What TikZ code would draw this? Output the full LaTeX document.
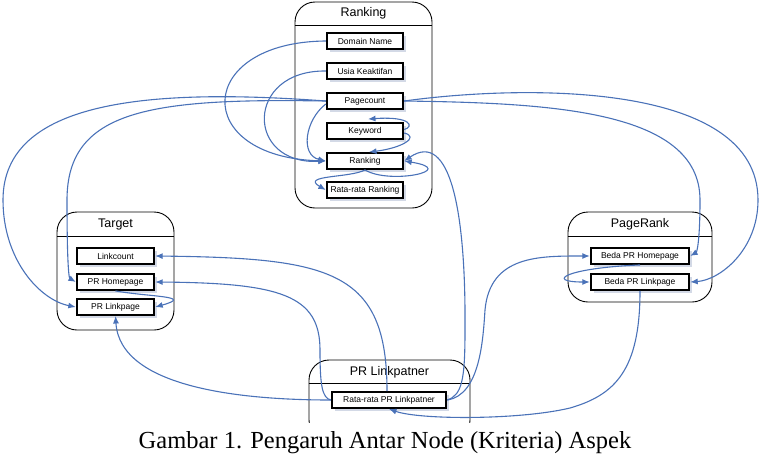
\documentclass[tikz,border=0pt]{standalone}
\usepackage{fontspec}
\setmainfont{Liberation Sans}
\newfontfamily\capfont{Liberation Serif}
\usetikzlibrary{arrows.meta,shadows}
\definecolor{edgeblue}{HTML}{4A72B8}
\definecolor{shadowc}{HTML}{D3D9E6}
\begin{document}
\begin{tikzpicture}[x=1pt,y=-1pt,
  grp/.style={draw=black, line width=0.9pt, rounded corners=20pt, inner sep=0pt},
  gtitle/.style={font=\fontsize{12.5}{14}\selectfont, inner sep=0pt},
  sep/.style={draw=black, line width=0.9pt},
  vbox/.style={draw=black, line width=2.4pt, fill=white, minimum height=15.5pt, inner sep=0pt,
    font=\fontsize{8.5}{10}\selectfont,
    drop shadow={shadow xshift=3pt, shadow yshift=-3pt, fill=shadowc, opacity=1}},
  ed/.style={draw=edgeblue, line width=1.1pt, -{Latex[length=7.5pt,width=6pt]}}]
\useasboundingbox (0,0) rectangle (760,459);

% groups
\node[grp, minimum width=137pt, minimum height=206pt] (gRank) at (363.5,105) {};
\node[gtitle] (tRank) at (363.5,13) {Ranking};
\draw[sep] (gRank.west |- 0,25) -- (gRank.east |- 0,25);

\node[grp, minimum width=117pt, minimum height=118pt] (gTarget) at (115.5,271) {};
\node[gtitle] (tTarget) at (115.5,224) {Target};
\draw[sep] (gTarget.west |- 0,236) -- (gTarget.east |- 0,236);

\node[grp, minimum width=144pt, minimum height=90pt] (gPR) at (640,257) {};
\node[gtitle] (tPR) at (640,224) {PageRank};
\draw[sep] (gPR.west |- 0,236) -- (gPR.east |- 0,236);

\begin{scope}
\clip (0,0) rectangle (760,422);
\node[grp, minimum width=161pt, minimum height=80pt] (gPL) at (389.5,400) {};
\end{scope}
\node[gtitle] (tPL) at (389.5,372) {PR Linkpatner};
\draw[sep] (gPL.west |- 0,383) -- (gPL.east |- 0,383);

% variable boxes
\node[vbox, minimum width=76pt] (dn) at (365,41) {Domain Name};
\node[vbox, minimum width=76pt] (uk) at (365,71) {Usia Keaktifan};
\node[vbox, minimum width=76pt] (pc) at (365,101) {Pagecount};
\node[vbox, minimum width=76pt] (kw) at (365,131) {Keyword};
\node[vbox, minimum width=76pt] (rk) at (365,161) {Ranking};
\node[vbox, minimum width=76pt] (rr) at (365,190) {Rata-rata Ranking};

\node[vbox, minimum width=77pt] (lc) at (115.5,256) {Linkcount};
\node[vbox, minimum width=77pt] (ph) at (115.5,282) {PR Homepage};
\node[vbox, minimum width=77pt] (pl) at (115.5,307) {PR Linkpage};

\node[vbox, minimum width=98pt] (bh) at (640,256) {Beda PR Homepage};
\node[vbox, minimum width=98pt] (bl) at (640,282) {Beda PR Linkpage};

\node[vbox, minimum width=114pt] (plk) at (389,400) {Rata-rata PR Linkpatner};

% connectors
\draw[ed] (dn.west) .. controls (195,42) and (190,157) .. (rk.west);
\draw[ed] (uk.west) .. controls (245,70) and (245,165) .. (rk.west);
\draw[ed] ([yshift=-3pt]pc.west) .. controls (305,120) and (300,155) .. (rk.west);

\draw[ed] (pc.west) .. controls (150,98) and (67,110) .. (67,200) .. controls (67,265) and (69,278) .. (ph.west);
\draw[ed] (pc.west) .. controls (150,88) and (3,100) .. (3,200) .. controls (3,260) and (40,300) .. (pl.west);
\draw[ed] (pc.east) .. controls (550,103) and (700,110) .. (700,200) .. controls (700,240) and (697,252) .. (bh.east);
\draw[ed] (pc.east) .. controls (520,85) and (758,80) .. (758,200) .. controls (758,250) and (720,280) .. (bl.east);

\draw[ed] ([yshift=1.5pt]kw.east) .. controls (414,127) and (412,116) .. ([xshift=3pt,yshift=3pt]kw.north);
\draw[ed] ([yshift=-2pt]kw.east) .. controls (420,137) and (402,148) .. ([xshift=4pt]rk.north);
\draw[ed] (rk.south) .. controls (390,185) and (460,170) .. (rk.east);
\draw[ed] (rk.south) .. controls (350,178) and (300,175) .. (rr.west);

\draw[ed] (plk.east) .. controls (462,395) and (465,380) .. (465,330) .. controls (466,210) and (450,130) .. (rk.east);
\draw[ed] ([xshift=-2pt]plk.north) .. controls (387,270) and (330,258) .. (lc.east);
\draw[ed] (plk.west) .. controls (322,398) and (320,385) .. (320,350) .. controls (320,295) and (280,283) .. (ph.east);
\draw[ed] (plk.west) .. controls (250,400) and (120,390) .. (pl.south);
\draw[ed] (plk.east) .. controls (480,395) and (483,340) .. (485,310) .. controls (490,255) and (540,256) .. (bh.west);
\draw[ed] (bl.south) .. controls (640,370) and (615,395) .. (570,408) .. controls (520,420) and (420,420) .. (plk.south);

\draw[ed] (ph.south) .. controls (150,297) and (195,296) .. (pl.east);
\draw[ed] (bh.south) .. controls (565,268) and (545,282) .. (bl.west);

% caption
\node[font=\capfont\fontsize{24.5}{28}\selectfont, inner sep=0pt] (cap) at (385,443) {Gambar 1. Pengaruh Antar Node (Kriteria) Aspek};
\end{tikzpicture}
\end{document}
